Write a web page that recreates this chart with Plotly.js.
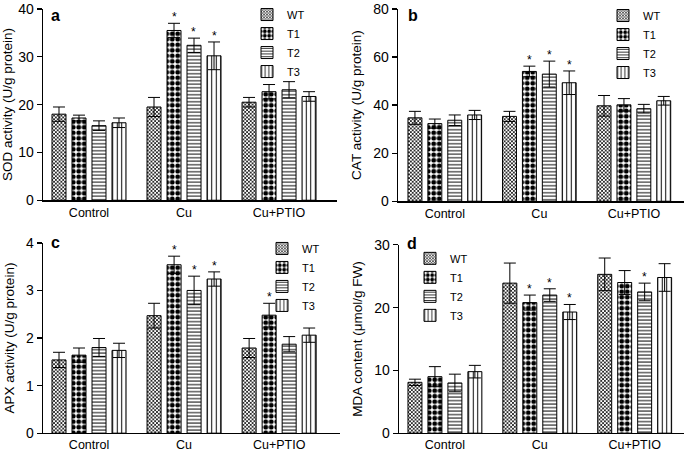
<!DOCTYPE html>
<html>
<head>
<meta charset="utf-8">
<script src="https://cdn.plot.ly/plotly-3.0.1.min.js"></script>
<style>html,body{margin:0;padding:0;background:#fff}#chart{width:685px;height:452px}</style>
</head>
<body>
<div id="chart"></div>
<script>
// ---- data ----
const groups = ['Control', 'Cu', 'Cu+PTIO'];
const seriesNames = ['WT', 'T1', 'T2', 'T3'];

// rows: WT, T1, T2, T3 ; columns: Control, Cu, Cu+PTIO
const sodMean = [[18.0, 19.5, 20.5], [17.2, 35.5, 22.7], [15.6, 32.4, 23.1], [16.2, 30.2, 21.7]];
const sodErr  = [[1.5, 2.0, 1.0], [0.6, 1.5, 1.5], [1.0, 1.5, 1.7], [1.0, 2.9, 1.0]];
const sodStar = [[0, 0, 0], [0, 1, 0], [0, 1, 0], [0, 1, 0]];

const catMean = [[34.7, 35.3, 39.7], [32.3, 54.0, 40.1], [33.7, 52.9, 38.5], [35.9, 49.3, 41.8]];
const catErr  = [[2.7, 2.1, 4.3], [1.9, 2.2, 2.6], [2.2, 5.4, 1.8], [1.9, 4.9, 1.8]];
const catStar = [[0, 0, 0], [0, 1, 0], [0, 1, 0], [0, 1, 0]];

const apxMean = [[1.54, 2.47, 1.79], [1.64, 3.54, 2.48], [1.80, 3.00, 1.87], [1.74, 3.24, 2.06]];
const apxErr  = [[0.16, 0.26, 0.20], [0.15, 0.18, 0.25], [0.19, 0.30, 0.16], [0.15, 0.15, 0.15]];
const apxStar = [[0, 0, 0], [0, 1, 1], [0, 1, 0], [0, 1, 0]];

const mdaMean = [[8.1, 23.9, 25.3], [9.0, 20.8, 24.0], [8.0, 22.0, 22.5], [9.8, 19.3, 24.8]];
const mdaErr  = [[0.5, 3.2, 2.6], [1.6, 1.2, 1.9], [1.4, 1.0, 1.4], [1.0, 1.2, 2.2]];
const mdaStar = [[0, 0, 0], [0, 1, 0], [0, 1, 1], [0, 1, 0]];

const panelLetters = ['a', 'b', 'c', 'd'];
const yTitles = ['SOD activity (U/g protein)', 'CAT activity (U/g protein)', 'APX activity (U/g protein)', 'MDA content (μmol/g FW)'];
const yMax = [40, 80, 4, 30];
const yDtick = [10, 20, 1, 10];

// ---- styling ----
const FONT = 'Liberation Sans, Arial, sans-serif';
const patterns = [
  {shape: 'x', size: 2.6, solidity: 0.5},
  {shape: '.', size: 5.5, solidity: 0.6},
  {shape: '-', size: 3.5, solidity: 0.28},
  {shape: '|', size: 4.5, solidity: 0.22}
];
const panels = [
  {mean: sodMean, err: sodErr, star: sodStar, xa: 'x', ya: 'y', leg: 'legend'},
  {mean: catMean, err: catErr, star: catStar, xa: 'x2', ya: 'y2', leg: 'legend2'},
  {mean: apxMean, err: apxErr, star: apxStar, xa: 'x3', ya: 'y3', leg: 'legend3'},
  {mean: mdaMean, err: mdaErr, star: mdaStar, xa: 'x4', ya: 'y4', leg: 'legend4'}
];
const slotOffsets = [-0.316, -0.105, 0.105, 0.316];

const traces = [];
const annotations = [];
panels.forEach((p, pi) => {
  seriesNames.forEach((nm, si) => {
    traces.push({
      type: 'bar', name: nm, x: groups, y: p.mean[si],
      xaxis: p.xa, yaxis: p.ya, legend: p.leg,
      marker: {color: '#fff', line: {color: '#000', width: 1},
        pattern: Object.assign({fgcolor: '#000', bgcolor: '#fff', fillmode: 'replace'}, patterns[si])},
      error_y: {type: 'data', array: p.err[si], visible: true, color: '#000', thickness: 1, width: 6},
      hoverinfo: 'skip'
    });
    groups.forEach((g, gi) => {
      if (p.star[si][gi]) {
        annotations.push({
          xref: p.xa, yref: p.ya, x: gi + slotOffsets[si], y: p.mean[si][gi] + p.err[si][gi],
          text: '*', showarrow: false, yanchor: 'bottom', yshift: -3,
          font: {family: FONT, size: 12, color: '#000'}
        });
      }
    });
  });
});

const letterPos = [[55, 12], [413, 12], [55, 241], [412, 242]];
letterPos.forEach((lp, i) => {
  annotations.push({xref: 'paper', yref: 'paper', x: lp[0] / 685, y: 1 - lp[1] / 452,
    xanchor: 'center', yanchor: 'middle', text: '<b>' + panelLetters[i] + '</b>', showarrow: false,
    font: {family: FONT, size: 16, color: '#000'}});
});

function xaxisDef(domain, range, anchor) {
  return {domain: domain, range: range, anchor: anchor, type: 'category',
    showline: true, linecolor: '#000', linewidth: 1.3, ticks: '', showgrid: false, zeroline: false,
    tickfont: {family: FONT, size: 12.5, color: '#000'}, fixedrange: true};
}
function yaxisDef(domain, i, anchor) {
  return {domain: domain, range: [0, yMax[i]], dtick: yDtick[i], tick0: 0, anchor: anchor,
    showline: true, linecolor: '#000', linewidth: 1.3, ticks: 'outside', ticklen: 5, tickwidth: 1.3,
    tickcolor: '#000', showgrid: false, zeroline: false, ticklabeloverflow: 'allow',
    tickfont: {family: FONT, size: 14, color: '#000'},
    title: {text: yTitles[i], font: {family: FONT, size: 13.5, color: '#000'}, standoff: 8},
    fixedrange: true};
}
function legendDef(xpx, ypx) {
  return {x: xpx / 685, y: 1 - ypx / 452, xanchor: 'left', yanchor: 'top',
    bgcolor: 'rgba(0,0,0,0)', borderwidth: 0, font: {family: FONT, size: 11, color: '#000'},
    tracegroupgap: 0};
}

const W = 685, H = 452;
const layout = {
  width: W, height: H, margin: {l: 0, r: 0, t: 0, b: 0},
  paper_bgcolor: '#fff', plot_bgcolor: 'rgba(0,0,0,0)',
  barmode: 'group', bargap: 0.158, bargroupgap: 0.3,
  font: {family: FONT, color: '#000'},
  xaxis:  xaxisDef([43 / W, 337 / W], [-0.484, 2.61], 'y'),
  yaxis:  yaxisDef([1 - 198 / H, 1 - 5 / H], 0, 'x'),
  xaxis2: xaxisDef([398 / W, 684 / W], [-0.495, 2.53], 'y2'),
  yaxis2: yaxisDef([1 - 199 / H, 1 - 5 / H], 1, 'x2'),
  xaxis3: xaxisDef([43 / W, 340 / W], [-0.484, 2.64], 'y3'),
  yaxis3: yaxisDef([1 - 433 / H, 1 - 241 / H], 2, 'x3'),
  xaxis4: xaxisDef([399 / W, 684 / W], [-0.484, 2.52], 'y4'),
  yaxis4: yaxisDef([1 - 433 / H, 1 - 243 / H], 3, 'x4'),
  legend:  legendDef(247, -4),
  legend2: legendDef(603, -3),
  legend3: legendDef(262, 232),
  legend4: legendDef(410, 242),
  showlegend: true,
  annotations: annotations
};

Plotly.newPlot('chart', traces, layout, {displayModeBar: false, staticPlot: true});
</script>
</body>
</html>
